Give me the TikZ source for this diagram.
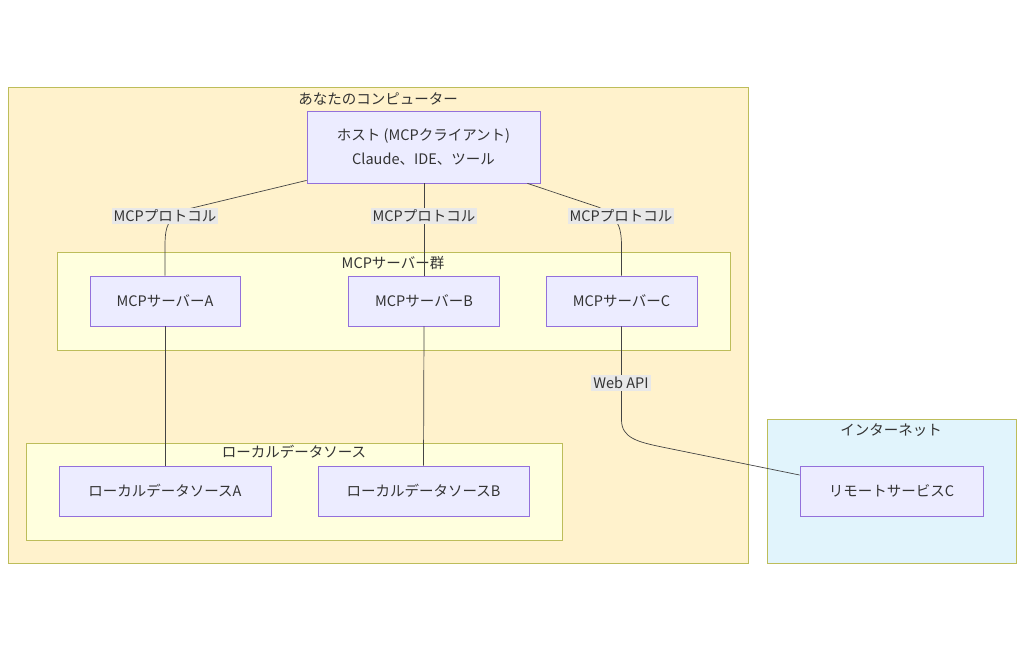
\documentclass[tikz,border=0pt]{standalone}
\usepackage{fontspec}
\setmainfont{Noto Sans CJK JP}
\usetikzlibrary{calc}
\definecolor{nodefill}{HTML}{ECECFF}
\definecolor{nodestroke}{HTML}{9370DB}
\definecolor{clstroke}{HTML}{BDBD5A}
\definecolor{outerfill}{HTML}{FFF2CC}
\definecolor{innerfill}{HTML}{FFFFDE}
\definecolor{netfill}{HTML}{E1F4FC}
\definecolor{lblfill}{HTML}{E8E8E8}
\definecolor{txt}{HTML}{333333}
\definecolor{edge}{HTML}{444444}
\tikzset{
  box/.style={draw=nodestroke, fill=nodefill, line width=0.8pt, text=txt, inner sep=0pt, align=center, font=\fontsize{14.5}{24}\selectfont},
  cluster/.style={draw=clstroke, line width=0.8pt},
  ctitle/.style={text=txt, font=\fontsize{14.5}{17}\selectfont, inner sep=0pt},
  elabel/.style={fill=lblfill, text=txt, font=\fontsize{14.5}{17}\selectfont, inner sep=2pt},
  conn/.style={draw=edge, line width=0.7pt}
}
\begin{document}
\begin{tikzpicture}[x=1pt,y=-1pt]
\useasboundingbox (0,0) rectangle (1024,651);
\fill[white] (0,0) rectangle (1024,651);
% clusters
\draw[cluster, fill=outerfill] (8,87) rectangle (748,563);
\node[ctitle] (tcomp) at (378,99) {あなたのコンピューター};
\draw[cluster, fill=innerfill] (57,252) rectangle (730,350);
\node[ctitle] (tsrv) at (393,263) {MCPサーバー群};
\draw[cluster, fill=innerfill] (26,443) rectangle (562,540);
\node[ctitle] (tlocal) at (294,452) {ローカルデータソース};
\draw[cluster, fill=netfill] (767,419) rectangle (1016,563);
\node[ctitle] (tnet) at (891,430) {インターネット};
% nodes
\node[box, minimum width=233pt, minimum height=72pt] (host) at (423.5,147) {ホスト (MCPクライアント)\\Claude、IDE、ツール};
\node[box, minimum width=150pt, minimum height=50pt] (sA) at (165,301) {MCPサーバーA};
\node[box, minimum width=151pt, minimum height=50pt] (sB) at (424,301) {MCPサーバーB};
\node[box, minimum width=151pt, minimum height=50pt] (sC) at (621.5,301) {MCPサーバーC};
\node[box, minimum width=212pt, minimum height=50pt] (lA) at (165,491) {ローカルデータソースA};
\node[box, minimum width=211pt, minimum height=50pt] (lB) at (423.5,491) {ローカルデータソースB};
\node[box, minimum width=183pt, minimum height=50pt] (rC) at (891.5,491) {リモートサービスC};
% connectors
\draw[conn] ([yshift=3pt]host.south west) -- (188,209) .. controls (168,216) and (165,226) .. (165,246) -- (sA.north);
\draw[conn] (host.south -| sB.north) -- (sB.north);
\draw[conn] ($(host.south east)+(-13,0)$) -- (598,207) .. controls (617,215) and (621.5,226) .. (621.5,246) -- (sC.north);
\draw[conn] (sA.south) -- (lA.north);
\draw[conn] (sB.south) -- (lB.north);
\draw[conn] (sC.south) -- (621.5,420) .. controls (621.5,438) and (638,442) .. (662,447) -- ([yshift=16pt]rC.west);
% edge labels
\node[elabel] (l1) at (165,216) {MCPプロトコル};
\node[elabel] (l2) at (424,216) {MCPプロトコル};
\node[elabel] (l3) at (621,216) {MCPプロトコル};
\node[elabel] (l4) at (621,383) {Web API};
\end{tikzpicture}
\end{document}
